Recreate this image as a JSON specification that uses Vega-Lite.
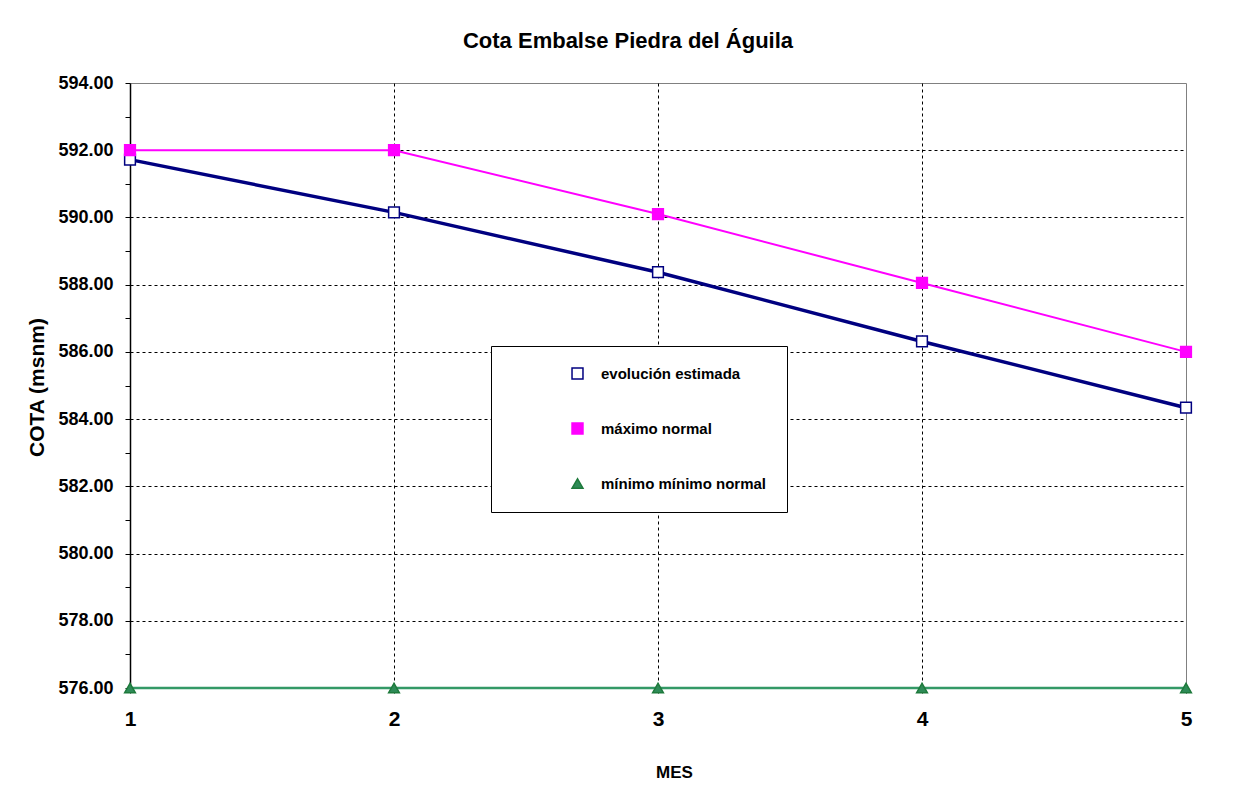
{
  "$schema": "https://vega.github.io/schema/vega-lite/v6.json",
  "width": 1056,
  "height": 605,
  "autosize": {"type": "none"},
  "padding": {"left": 130, "top": 83, "right": 55, "bottom": 108},
  "background": "white",
  "config": {
    "view": {"stroke": "#808080", "strokeWidth": 1}
  },
  "title": {"text": "Cota Embalse Piedra del Águila", "anchor": "middle", "frame": "group", "dx": -30, "offset": 4, "baseline": "alphabetic", "font": "Liberation Sans", "fontSize": 22, "fontWeight": "bold", "color": "black"},
  "data": {"values": [
    {"mes": 1, "cota": 591.72, "serie": "evolución estimada"},
    {"mes": 2, "cota": 590.15, "serie": "evolución estimada"},
    {"mes": 3, "cota": 588.37, "serie": "evolución estimada"},
    {"mes": 4, "cota": 586.31, "serie": "evolución estimada"},
    {"mes": 5, "cota": 584.34, "serie": "evolución estimada"},
    {"mes": 1, "cota": 592.0, "serie": "máximo normal"},
    {"mes": 2, "cota": 592.0, "serie": "máximo normal"},
    {"mes": 3, "cota": 590.1, "serie": "máximo normal"},
    {"mes": 4, "cota": 588.05, "serie": "máximo normal"},
    {"mes": 5, "cota": 586.0, "serie": "máximo normal"},
    {"mes": 1, "cota": 576.0, "serie": "mínimo mínimo normal"},
    {"mes": 2, "cota": 576.0, "serie": "mínimo mínimo normal"},
    {"mes": 3, "cota": 576.0, "serie": "mínimo mínimo normal"},
    {"mes": 4, "cota": 576.0, "serie": "mínimo mínimo normal"},
    {"mes": 5, "cota": 576.0, "serie": "mínimo mínimo normal"}
  ]},
  "encoding": {
    "x": {"field": "mes", "type": "quantitative",
      "scale": {"domain": [1, 5], "nice": false, "zero": false},
      "axis": {"values": [1, 2, 3, 4, 5], "format": "d", "labelFlush": false, "labelOverlap": false,
        "grid": true, "gridColor": "black", "gridDash": [3, 3], "gridWidth": 1,
        "gridOpacity": {"condition": {"test": "datum.value === 1 || datum.value === 5", "value": 0}, "value": 1},
        "domainColor": "black", "domainWidth": 1, "tickColor": "black", "tickSize": 5,
        "labelFont": "Liberation Sans", "labelFontSize": 21, "labelFontWeight": "bold", "labelColor": "black", "labelPadding": 15,
        "title": "MES", "titleFont": "Liberation Sans", "titleFontSize": 17, "titleFontWeight": "bold", "titleColor": "black",
        "titleX": 544, "titleY": 89, "titleBaseline": "alphabetic", "titleAlign": "center"}},
    "y": {"field": "cota", "type": "quantitative",
      "scale": {"domain": [576, 594], "nice": false, "zero": false},
      "axis": {"values": [576, 577, 578, 579, 580, 581, 582, 583, 584, 585, 586, 587, 588, 589, 590, 591, 592, 593, 594],
        "labelExpr": "datum.value % 2 === 0 ? format(datum.value, '.2f') : ''", "labelOverlap": false, "labelFlush": false,
        "grid": true, "gridColor": "black", "gridDash": [3, 3], "gridWidth": 1,
        "gridOpacity": {"condition": {"test": "datum.value % 2 !== 0 || datum.value === 594 || datum.value === 576", "value": 0}, "value": 1},
        "domainColor": "black", "domainWidth": 1.5, "tickColor": "black", "tickSize": 5,
        "labelFont": "Liberation Sans", "labelFontSize": 18, "labelFontWeight": "bold", "labelColor": "black", "labelPadding": 12,
        "title": "COTA (msnm)", "titleFont": "Liberation Sans", "titleFontSize": 21, "titleFontWeight": "bold", "titleColor": "black",
        "titleX": -93, "titleY": 304, "titleBaseline": "middle", "titleAlign": "center", "titleAngle": -90}}
  },
  "layer": [
    {"transform": [{"filter": "datum.serie === 'mínimo mínimo normal'"}],
     "mark": {"type": "line", "clip": false, "color": "#339966", "strokeWidth": 2.5},
     "encoding": {}},
    {"transform": [{"filter": "datum.serie === 'evolución estimada'"}],
     "mark": {"type": "line", "clip": false, "color": "#000080", "strokeWidth": 3.5},
     "encoding": {}},
    {"transform": [{"filter": "datum.serie === 'máximo normal'"}],
     "mark": {"type": "line", "clip": false, "color": "#FF00FF", "strokeWidth": 2},
     "encoding": {}},
    {"mark": {"type": "point", "filled": true, "opacity": 1, "strokeWidth": 1.5, "size": 115, "clip": false},
     "encoding": {
       "shape": {"field": "serie", "type": "nominal", "scale": {"domain": ["evolución estimada", "máximo normal", "mínimo mínimo normal"], "range": ["square", "square", "triangle-up"]},
         "legend": {"orient": "none", "legendX": 361, "legendY": 263, "title": null, "padding": 20, "symbolOffset": 59, "labelOffset": 16, "rowPadding": 38,
           "fillColor": "white", "strokeColor": "black", "symbolSize": 120, "symbolStrokeWidth": 1.5, "symbolOpacity": 1,
           "labelFont": "Liberation Sans", "labelFontSize": 15, "labelFontWeight": "bold", "labelColor": "black", "labelLimit": 400}},
       "fill": {"field": "serie", "type": "nominal", "scale": {"domain": ["evolución estimada", "máximo normal", "mínimo mínimo normal"], "range": ["#FFFFFF", "#FF00FF", "#2E8B57"]}},
       "stroke": {"field": "serie", "type": "nominal", "scale": {"domain": ["evolución estimada", "máximo normal", "mínimo mínimo normal"], "range": ["#000080", "#FF00FF", "#1E7A3C"]}}
     }}
  ]
}
